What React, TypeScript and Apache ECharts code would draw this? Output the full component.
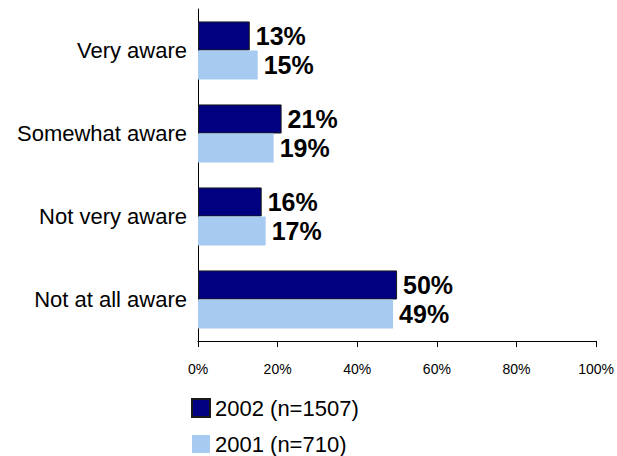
import React, { useEffect, useRef } from "react";
import * as echarts from "echarts";

const categories = ["Very aware", "Somewhat aware", "Not very aware", "Not at all aware"];
const series2002 = [13, 21, 16, 50];
const series2001 = [15, 19, 17, 49];
const seriesNames = ["2002 (n=1507)", "2001 (n=710)"];
const xTicks = [0, 20, 40, 60, 80, 100];

export default function App() {
  const ref = useRef<HTMLDivElement>(null);
  useEffect(() => {
    if (!ref.current) return;
    const chart = echarts.init(ref.current, null, { renderer: "svg" });
    const font = "'Liberation Sans', Arial, sans-serif";
    const label = {
      show: true,
      position: "right",
      distance: 6,
      formatter: "{c}%",
      color: "#000",
      fontWeight: "bold",
      fontSize: 25,
      fontFamily: font,
    };
    chart.setOption({
      animation: false,
      backgroundColor: "#fff",
      grid: { left: 198, top: 9, right: 20, bottom: 115, containLabel: false },
      xAxis: {
        type: "value",
        min: 0,
        max: 100,
        interval: 20,
        splitLine: { show: false },
        axisLine: { show: true, lineStyle: { color: "#000", width: 1 } },
        axisTick: { show: true, length: 6, lineStyle: { color: "#000" } },
        axisLabel: {
          formatter: (v: number) => (xTicks.includes(v) ? v + "%" : ""),
          color: "#000",
          fontSize: 14,
          fontFamily: font,
          margin: 21,
        },
      },
      yAxis: {
        type: "category",
        data: categories,
        inverse: true,
        axisLine: { show: true, lineStyle: { color: "#000", width: 1 } },
        axisTick: { show: false },
        axisLabel: { color: "#000", fontSize: 22, fontFamily: font, margin: 11 },
      },
      legend: {
        orient: "vertical",
        left: 191,
        top: 397,
        width: 300,
        height: 80,
        padding: 0,
        itemWidth: 18,
        itemHeight: 18,
        itemGap: 14,
        icon: "rect",
        textStyle: { color: "#000", fontSize: 22, fontFamily: font, lineHeight: 22 },
        data: seriesNames,
      },
      series: [
        {
          name: seriesNames[0],
          type: "bar",
          data: series2002,
          barGap: "0%",
          barCategoryGap: "30%",
          itemStyle: { color: "#000080", borderColor: "#1a1a1a", borderWidth: 1 },
          label,
        },
        {
          name: seriesNames[1],
          type: "bar",
          data: series2001,
          barGap: "0%",
          barCategoryGap: "30%",
          itemStyle: { color: "#A6CAF0" },
          label,
        },
      ],
    });
    return () => chart.dispose();
  }, []);
  return <div ref={ref} style={{ width: 617, height: 456, position: "absolute", left: 0, top: 0 }} />;
}
